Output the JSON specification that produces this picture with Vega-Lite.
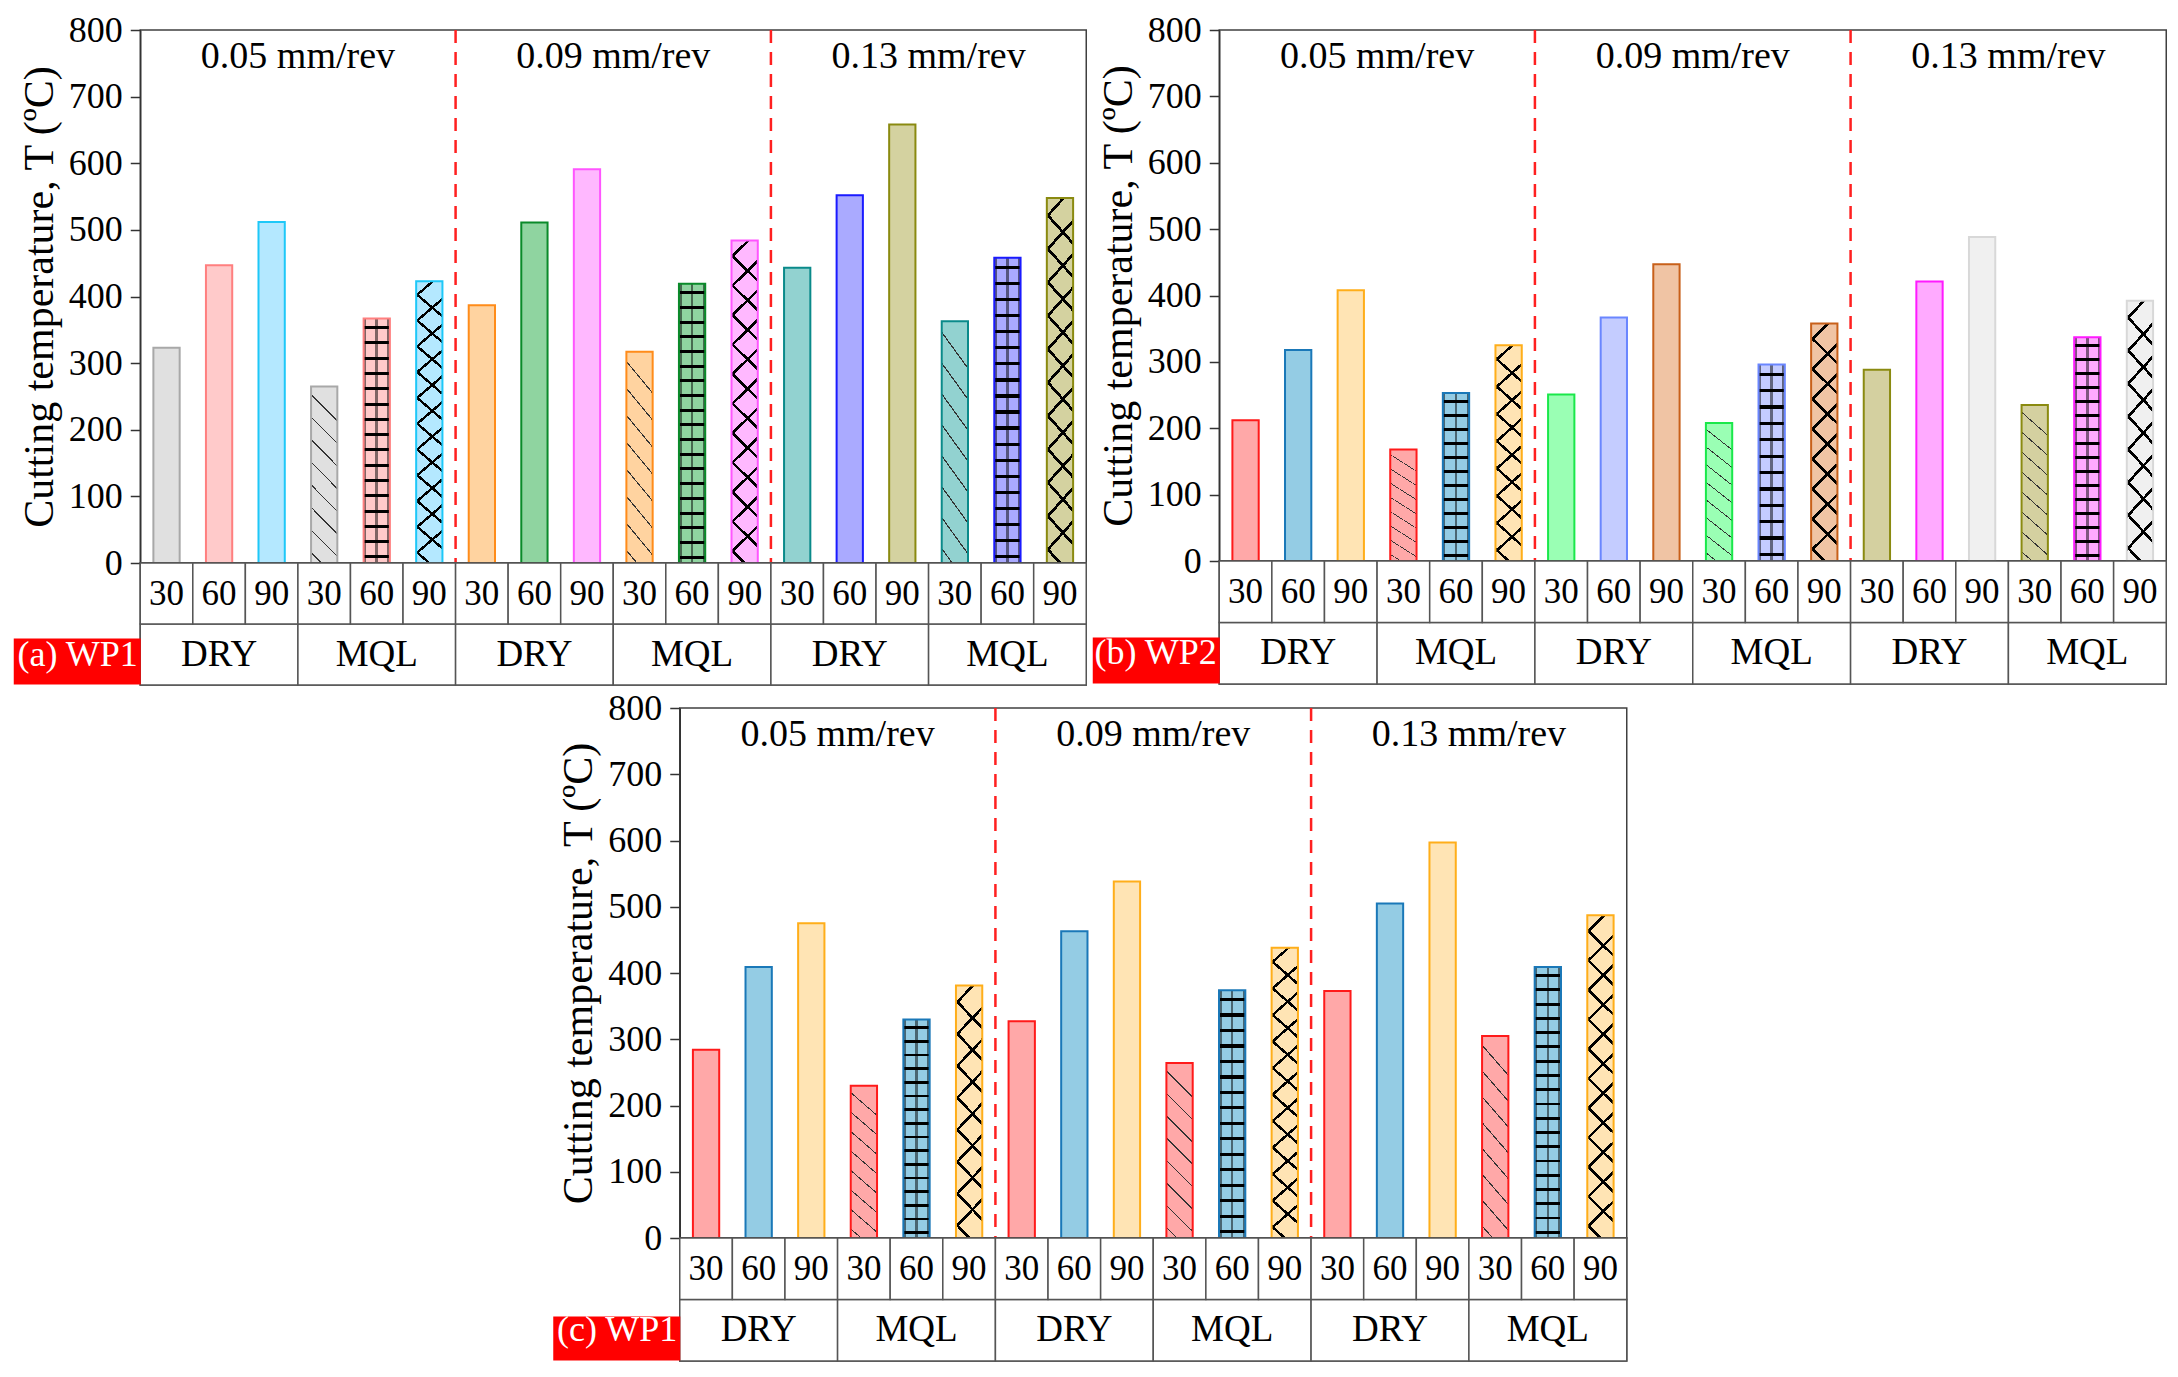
{
  "$schema": "https://vega.github.io/schema/vega-lite/v6.json",
  "padding": {"left": -11, "top": 11, "right": 8, "bottom": 4},
  "params": [
    {"name": "g12", "value": {"gradient": "linear", "x1": 0, "y1": 0, "x2": 0, "y2": 1, "stops": [
      {"offset":0.0417,"color":"transparent"},{"offset":0.0417,"color":"black"},{"offset":0.0583,"color":"black"},{"offset":0.0583,"color":"transparent"},
      {"offset":0.125,"color":"transparent"},{"offset":0.125,"color":"black"},{"offset":0.1417,"color":"black"},{"offset":0.1417,"color":"transparent"},
      {"offset":0.2083,"color":"transparent"},{"offset":0.2083,"color":"black"},{"offset":0.225,"color":"black"},{"offset":0.225,"color":"transparent"},
      {"offset":0.2917,"color":"transparent"},{"offset":0.2917,"color":"black"},{"offset":0.3083,"color":"black"},{"offset":0.3083,"color":"transparent"},
      {"offset":0.375,"color":"transparent"},{"offset":0.375,"color":"black"},{"offset":0.3917,"color":"black"},{"offset":0.3917,"color":"transparent"},
      {"offset":0.4583,"color":"transparent"},{"offset":0.4583,"color":"black"},{"offset":0.475,"color":"black"},{"offset":0.475,"color":"transparent"},
      {"offset":0.5417,"color":"transparent"},{"offset":0.5417,"color":"black"},{"offset":0.5583,"color":"black"},{"offset":0.5583,"color":"transparent"},
      {"offset":0.625,"color":"transparent"},{"offset":0.625,"color":"black"},{"offset":0.6417,"color":"black"},{"offset":0.6417,"color":"transparent"},
      {"offset":0.7083,"color":"transparent"},{"offset":0.7083,"color":"black"},{"offset":0.725,"color":"black"},{"offset":0.725,"color":"transparent"},
      {"offset":0.7917,"color":"transparent"},{"offset":0.7917,"color":"black"},{"offset":0.8083,"color":"black"},{"offset":0.8083,"color":"transparent"},
      {"offset":0.875,"color":"transparent"},{"offset":0.875,"color":"black"},{"offset":0.8917,"color":"black"},{"offset":0.8917,"color":"transparent"},
      {"offset":0.9583,"color":"transparent"},{"offset":0.9583,"color":"black"},{"offset":0.975,"color":"black"},{"offset":0.975,"color":"transparent"}
    ]}},
    {"name": "g16", "value": {"gradient": "linear", "x1": 0, "y1": 0, "x2": 0, "y2": 1, "stops": [
      {"offset":0.0313,"color":"transparent"},{"offset":0.0313,"color":"black"},{"offset":0.0438,"color":"black"},{"offset":0.0438,"color":"transparent"},
      {"offset":0.0938,"color":"transparent"},{"offset":0.0938,"color":"black"},{"offset":0.1063,"color":"black"},{"offset":0.1063,"color":"transparent"},
      {"offset":0.1563,"color":"transparent"},{"offset":0.1563,"color":"black"},{"offset":0.1688,"color":"black"},{"offset":0.1688,"color":"transparent"},
      {"offset":0.2188,"color":"transparent"},{"offset":0.2188,"color":"black"},{"offset":0.2313,"color":"black"},{"offset":0.2313,"color":"transparent"},
      {"offset":0.2813,"color":"transparent"},{"offset":0.2813,"color":"black"},{"offset":0.2938,"color":"black"},{"offset":0.2938,"color":"transparent"},
      {"offset":0.3438,"color":"transparent"},{"offset":0.3438,"color":"black"},{"offset":0.3563,"color":"black"},{"offset":0.3563,"color":"transparent"},
      {"offset":0.4063,"color":"transparent"},{"offset":0.4063,"color":"black"},{"offset":0.4188,"color":"black"},{"offset":0.4188,"color":"transparent"},
      {"offset":0.4688,"color":"transparent"},{"offset":0.4688,"color":"black"},{"offset":0.4813,"color":"black"},{"offset":0.4813,"color":"transparent"},
      {"offset":0.5313,"color":"transparent"},{"offset":0.5313,"color":"black"},{"offset":0.5438,"color":"black"},{"offset":0.5438,"color":"transparent"},
      {"offset":0.5938,"color":"transparent"},{"offset":0.5938,"color":"black"},{"offset":0.6063,"color":"black"},{"offset":0.6063,"color":"transparent"},
      {"offset":0.6563,"color":"transparent"},{"offset":0.6563,"color":"black"},{"offset":0.6688,"color":"black"},{"offset":0.6688,"color":"transparent"},
      {"offset":0.7188,"color":"transparent"},{"offset":0.7188,"color":"black"},{"offset":0.7313,"color":"black"},{"offset":0.7313,"color":"transparent"},
      {"offset":0.7813,"color":"transparent"},{"offset":0.7813,"color":"black"},{"offset":0.7938,"color":"black"},{"offset":0.7938,"color":"transparent"},
      {"offset":0.8438,"color":"transparent"},{"offset":0.8438,"color":"black"},{"offset":0.8563,"color":"black"},{"offset":0.8563,"color":"transparent"},
      {"offset":0.9063,"color":"transparent"},{"offset":0.9063,"color":"black"},{"offset":0.9188,"color":"black"},{"offset":0.9188,"color":"transparent"},
      {"offset":0.9688,"color":"transparent"},{"offset":0.9688,"color":"black"},{"offset":0.9813,"color":"black"},{"offset":0.9813,"color":"transparent"}
    ]}},
    {"name": "g19", "value": {"gradient": "linear", "x1": 0, "y1": 0, "x2": 0, "y2": 1, "stops": [
      {"offset":0.0263,"color":"transparent"},{"offset":0.0263,"color":"black"},{"offset":0.0368,"color":"black"},{"offset":0.0368,"color":"transparent"},
      {"offset":0.0789,"color":"transparent"},{"offset":0.0789,"color":"black"},{"offset":0.0894,"color":"black"},{"offset":0.0894,"color":"transparent"},
      {"offset":0.1316,"color":"transparent"},{"offset":0.1316,"color":"black"},{"offset":0.1421,"color":"black"},{"offset":0.1421,"color":"transparent"},
      {"offset":0.1842,"color":"transparent"},{"offset":0.1842,"color":"black"},{"offset":0.1947,"color":"black"},{"offset":0.1947,"color":"transparent"},
      {"offset":0.2368,"color":"transparent"},{"offset":0.2368,"color":"black"},{"offset":0.2473,"color":"black"},{"offset":0.2473,"color":"transparent"},
      {"offset":0.2895,"color":"transparent"},{"offset":0.2895,"color":"black"},{"offset":0.3,"color":"black"},{"offset":0.3,"color":"transparent"},
      {"offset":0.3421,"color":"transparent"},{"offset":0.3421,"color":"black"},{"offset":0.3526,"color":"black"},{"offset":0.3526,"color":"transparent"},
      {"offset":0.3947,"color":"transparent"},{"offset":0.3947,"color":"black"},{"offset":0.4052,"color":"black"},{"offset":0.4052,"color":"transparent"},
      {"offset":0.4474,"color":"transparent"},{"offset":0.4474,"color":"black"},{"offset":0.4579,"color":"black"},{"offset":0.4579,"color":"transparent"},
      {"offset":0.5,"color":"transparent"},{"offset":0.5,"color":"black"},{"offset":0.5105,"color":"black"},{"offset":0.5105,"color":"transparent"},
      {"offset":0.5526,"color":"transparent"},{"offset":0.5526,"color":"black"},{"offset":0.5631,"color":"black"},{"offset":0.5631,"color":"transparent"},
      {"offset":0.6053,"color":"transparent"},{"offset":0.6053,"color":"black"},{"offset":0.6158,"color":"black"},{"offset":0.6158,"color":"transparent"},
      {"offset":0.6579,"color":"transparent"},{"offset":0.6579,"color":"black"},{"offset":0.6684,"color":"black"},{"offset":0.6684,"color":"transparent"},
      {"offset":0.7105,"color":"transparent"},{"offset":0.7105,"color":"black"},{"offset":0.721,"color":"black"},{"offset":0.721,"color":"transparent"},
      {"offset":0.7632,"color":"transparent"},{"offset":0.7632,"color":"black"},{"offset":0.7737,"color":"black"},{"offset":0.7737,"color":"transparent"},
      {"offset":0.8158,"color":"transparent"},{"offset":0.8158,"color":"black"},{"offset":0.8263,"color":"black"},{"offset":0.8263,"color":"transparent"},
      {"offset":0.8684,"color":"transparent"},{"offset":0.8684,"color":"black"},{"offset":0.8789,"color":"black"},{"offset":0.8789,"color":"transparent"},
      {"offset":0.9211,"color":"transparent"},{"offset":0.9211,"color":"black"},{"offset":0.9316,"color":"black"},{"offset":0.9316,"color":"transparent"},
      {"offset":0.9737,"color":"transparent"},{"offset":0.9737,"color":"black"},{"offset":0.9842,"color":"black"},{"offset":0.9842,"color":"transparent"}
    ]}},
    {"name": "gv", "value": {"gradient": "linear", "x1": 0, "y1": 0, "x2": 1, "y2": 0, "stops": [
      {"offset":0,"color":"rgba(0,0,0,0.5)"},{"offset":0.1,"color":"rgba(0,0,0,0.5)"},{"offset":0.1,"color":"transparent"},
      {"offset":0.45,"color":"transparent"},{"offset":0.45,"color":"rgba(0,0,0,0.5)"},{"offset":0.55,"color":"rgba(0,0,0,0.5)"},{"offset":0.55,"color":"transparent"},
      {"offset":0.9,"color":"transparent"},{"offset":0.9,"color":"rgba(0,0,0,0.5)"},{"offset":1,"color":"rgba(0,0,0,0.5)"}
    ]}},
    {"name": "d30", "value": {"gradient": "linear", "x1": 0.15, "y1": 0, "x2": 0, "y2": 1, "stops": [
      {"offset":0.0625,"color":"transparent"},{"offset":0.0625,"color":"#333"},{"offset":0.0705,"color":"#333"},{"offset":0.0705,"color":"transparent"},
      {"offset":0.1875,"color":"transparent"},{"offset":0.1875,"color":"#333"},{"offset":0.1955,"color":"#333"},{"offset":0.1955,"color":"transparent"},
      {"offset":0.3125,"color":"transparent"},{"offset":0.3125,"color":"#333"},{"offset":0.3205,"color":"#333"},{"offset":0.3205,"color":"transparent"},
      {"offset":0.4375,"color":"transparent"},{"offset":0.4375,"color":"#333"},{"offset":0.4455,"color":"#333"},{"offset":0.4455,"color":"transparent"},
      {"offset":0.5625,"color":"transparent"},{"offset":0.5625,"color":"#333"},{"offset":0.5705,"color":"#333"},{"offset":0.5705,"color":"transparent"},
      {"offset":0.6875,"color":"transparent"},{"offset":0.6875,"color":"#333"},{"offset":0.6955,"color":"#333"},{"offset":0.6955,"color":"transparent"},
      {"offset":0.8125,"color":"transparent"},{"offset":0.8125,"color":"#333"},{"offset":0.8205,"color":"#333"},{"offset":0.8205,"color":"transparent"},
      {"offset":0.9375,"color":"transparent"},{"offset":0.9375,"color":"#333"},{"offset":0.9455,"color":"#333"},{"offset":0.9455,"color":"transparent"}
    ]}},
    {"name": "xa8", "value": {"gradient": "linear", "x1": 0.11, "y1": 0, "x2": 0, "y2": 1, "stops": [
      {"offset":0.0625,"color":"transparent"},{"offset":0.0625,"color":"black"},{"offset":0.0775,"color":"black"},{"offset":0.0775,"color":"transparent"},
      {"offset":0.1875,"color":"transparent"},{"offset":0.1875,"color":"black"},{"offset":0.2025,"color":"black"},{"offset":0.2025,"color":"transparent"},
      {"offset":0.3125,"color":"transparent"},{"offset":0.3125,"color":"black"},{"offset":0.3275,"color":"black"},{"offset":0.3275,"color":"transparent"},
      {"offset":0.4375,"color":"transparent"},{"offset":0.4375,"color":"black"},{"offset":0.4525,"color":"black"},{"offset":0.4525,"color":"transparent"},
      {"offset":0.5625,"color":"transparent"},{"offset":0.5625,"color":"black"},{"offset":0.5775,"color":"black"},{"offset":0.5775,"color":"transparent"},
      {"offset":0.6875,"color":"transparent"},{"offset":0.6875,"color":"black"},{"offset":0.7025,"color":"black"},{"offset":0.7025,"color":"transparent"},
      {"offset":0.8125,"color":"transparent"},{"offset":0.8125,"color":"black"},{"offset":0.8275,"color":"black"},{"offset":0.8275,"color":"transparent"},
      {"offset":0.9375,"color":"transparent"},{"offset":0.9375,"color":"black"},{"offset":0.9525,"color":"black"},{"offset":0.9525,"color":"transparent"}
    ]}},
    {"name": "xb8", "value": {"gradient": "linear", "x1": 0, "y1": 0, "x2": 0.11, "y2": 1, "stops": [
      {"offset":0.0625,"color":"transparent"},{"offset":0.0625,"color":"black"},{"offset":0.0775,"color":"black"},{"offset":0.0775,"color":"transparent"},
      {"offset":0.1875,"color":"transparent"},{"offset":0.1875,"color":"black"},{"offset":0.2025,"color":"black"},{"offset":0.2025,"color":"transparent"},
      {"offset":0.3125,"color":"transparent"},{"offset":0.3125,"color":"black"},{"offset":0.3275,"color":"black"},{"offset":0.3275,"color":"transparent"},
      {"offset":0.4375,"color":"transparent"},{"offset":0.4375,"color":"black"},{"offset":0.4525,"color":"black"},{"offset":0.4525,"color":"transparent"},
      {"offset":0.5625,"color":"transparent"},{"offset":0.5625,"color":"black"},{"offset":0.5775,"color":"black"},{"offset":0.5775,"color":"transparent"},
      {"offset":0.6875,"color":"transparent"},{"offset":0.6875,"color":"black"},{"offset":0.7025,"color":"black"},{"offset":0.7025,"color":"transparent"},
      {"offset":0.8125,"color":"transparent"},{"offset":0.8125,"color":"black"},{"offset":0.8275,"color":"black"},{"offset":0.8275,"color":"transparent"},
      {"offset":0.9375,"color":"transparent"},{"offset":0.9375,"color":"black"},{"offset":0.9525,"color":"black"},{"offset":0.9525,"color":"transparent"}
    ]}},
    {"name": "xa11", "value": {"gradient": "linear", "x1": 0.08, "y1": 0, "x2": 0, "y2": 1, "stops": [
      {"offset":0.0455,"color":"transparent"},{"offset":0.0455,"color":"black"},{"offset":0.0565,"color":"black"},{"offset":0.0565,"color":"transparent"},
      {"offset":0.1364,"color":"transparent"},{"offset":0.1364,"color":"black"},{"offset":0.1474,"color":"black"},{"offset":0.1474,"color":"transparent"},
      {"offset":0.2273,"color":"transparent"},{"offset":0.2273,"color":"black"},{"offset":0.2383,"color":"black"},{"offset":0.2383,"color":"transparent"},
      {"offset":0.3182,"color":"transparent"},{"offset":0.3182,"color":"black"},{"offset":0.3292,"color":"black"},{"offset":0.3292,"color":"transparent"},
      {"offset":0.4091,"color":"transparent"},{"offset":0.4091,"color":"black"},{"offset":0.4201,"color":"black"},{"offset":0.4201,"color":"transparent"},
      {"offset":0.5,"color":"transparent"},{"offset":0.5,"color":"black"},{"offset":0.511,"color":"black"},{"offset":0.511,"color":"transparent"},
      {"offset":0.5909,"color":"transparent"},{"offset":0.5909,"color":"black"},{"offset":0.6019,"color":"black"},{"offset":0.6019,"color":"transparent"},
      {"offset":0.6818,"color":"transparent"},{"offset":0.6818,"color":"black"},{"offset":0.6928,"color":"black"},{"offset":0.6928,"color":"transparent"},
      {"offset":0.7727,"color":"transparent"},{"offset":0.7727,"color":"black"},{"offset":0.7837,"color":"black"},{"offset":0.7837,"color":"transparent"},
      {"offset":0.8636,"color":"transparent"},{"offset":0.8636,"color":"black"},{"offset":0.8746,"color":"black"},{"offset":0.8746,"color":"transparent"},
      {"offset":0.9545,"color":"transparent"},{"offset":0.9545,"color":"black"},{"offset":0.9655,"color":"black"},{"offset":0.9655,"color":"transparent"}
    ]}},
    {"name": "xb11", "value": {"gradient": "linear", "x1": 0, "y1": 0, "x2": 0.08, "y2": 1, "stops": [
      {"offset":0.0455,"color":"transparent"},{"offset":0.0455,"color":"black"},{"offset":0.0565,"color":"black"},{"offset":0.0565,"color":"transparent"},
      {"offset":0.1364,"color":"transparent"},{"offset":0.1364,"color":"black"},{"offset":0.1474,"color":"black"},{"offset":0.1474,"color":"transparent"},
      {"offset":0.2273,"color":"transparent"},{"offset":0.2273,"color":"black"},{"offset":0.2383,"color":"black"},{"offset":0.2383,"color":"transparent"},
      {"offset":0.3182,"color":"transparent"},{"offset":0.3182,"color":"black"},{"offset":0.3292,"color":"black"},{"offset":0.3292,"color":"transparent"},
      {"offset":0.4091,"color":"transparent"},{"offset":0.4091,"color":"black"},{"offset":0.4201,"color":"black"},{"offset":0.4201,"color":"transparent"},
      {"offset":0.5,"color":"transparent"},{"offset":0.5,"color":"black"},{"offset":0.511,"color":"black"},{"offset":0.511,"color":"transparent"},
      {"offset":0.5909,"color":"transparent"},{"offset":0.5909,"color":"black"},{"offset":0.6019,"color":"black"},{"offset":0.6019,"color":"transparent"},
      {"offset":0.6818,"color":"transparent"},{"offset":0.6818,"color":"black"},{"offset":0.6928,"color":"black"},{"offset":0.6928,"color":"transparent"},
      {"offset":0.7727,"color":"transparent"},{"offset":0.7727,"color":"black"},{"offset":0.7837,"color":"black"},{"offset":0.7837,"color":"transparent"},
      {"offset":0.8636,"color":"transparent"},{"offset":0.8636,"color":"black"},{"offset":0.8746,"color":"black"},{"offset":0.8746,"color":"transparent"},
      {"offset":0.9545,"color":"transparent"},{"offset":0.9545,"color":"black"},{"offset":0.9655,"color":"black"},{"offset":0.9655,"color":"transparent"}
    ]}}
  ],
  "datasets": {
    "temps": [
      {"panel":"a","feed":"0.05 mm/rev","cond":"DRY","speed":30,"T":323},
      {"panel":"a","feed":"0.05 mm/rev","cond":"DRY","speed":60,"T":447},
      {"panel":"a","feed":"0.05 mm/rev","cond":"DRY","speed":90,"T":512},
      {"panel":"a","feed":"0.05 mm/rev","cond":"MQL","speed":30,"T":265},
      {"panel":"a","feed":"0.05 mm/rev","cond":"MQL","speed":60,"T":367},
      {"panel":"a","feed":"0.05 mm/rev","cond":"MQL","speed":90,"T":423},
      {"panel":"a","feed":"0.09 mm/rev","cond":"DRY","speed":30,"T":387},
      {"panel":"a","feed":"0.09 mm/rev","cond":"DRY","speed":60,"T":511},
      {"panel":"a","feed":"0.09 mm/rev","cond":"DRY","speed":90,"T":591},
      {"panel":"a","feed":"0.09 mm/rev","cond":"MQL","speed":30,"T":317},
      {"panel":"a","feed":"0.09 mm/rev","cond":"MQL","speed":60,"T":419},
      {"panel":"a","feed":"0.09 mm/rev","cond":"MQL","speed":90,"T":484},
      {"panel":"a","feed":"0.13 mm/rev","cond":"DRY","speed":30,"T":443},
      {"panel":"a","feed":"0.13 mm/rev","cond":"DRY","speed":60,"T":552},
      {"panel":"a","feed":"0.13 mm/rev","cond":"DRY","speed":90,"T":658},
      {"panel":"a","feed":"0.13 mm/rev","cond":"MQL","speed":30,"T":363},
      {"panel":"a","feed":"0.13 mm/rev","cond":"MQL","speed":60,"T":458},
      {"panel":"a","feed":"0.13 mm/rev","cond":"MQL","speed":90,"T":548},
      {"panel":"b","feed":"0.05 mm/rev","cond":"DRY","speed":30,"T":212},
      {"panel":"b","feed":"0.05 mm/rev","cond":"DRY","speed":60,"T":318},
      {"panel":"b","feed":"0.05 mm/rev","cond":"DRY","speed":90,"T":408},
      {"panel":"b","feed":"0.05 mm/rev","cond":"MQL","speed":30,"T":168},
      {"panel":"b","feed":"0.05 mm/rev","cond":"MQL","speed":60,"T":253},
      {"panel":"b","feed":"0.05 mm/rev","cond":"MQL","speed":90,"T":325},
      {"panel":"b","feed":"0.09 mm/rev","cond":"DRY","speed":30,"T":251},
      {"panel":"b","feed":"0.09 mm/rev","cond":"DRY","speed":60,"T":367},
      {"panel":"b","feed":"0.09 mm/rev","cond":"DRY","speed":90,"T":447},
      {"panel":"b","feed":"0.09 mm/rev","cond":"MQL","speed":30,"T":208},
      {"panel":"b","feed":"0.09 mm/rev","cond":"MQL","speed":60,"T":296},
      {"panel":"b","feed":"0.09 mm/rev","cond":"MQL","speed":90,"T":358},
      {"panel":"b","feed":"0.13 mm/rev","cond":"DRY","speed":30,"T":288},
      {"panel":"b","feed":"0.13 mm/rev","cond":"DRY","speed":60,"T":421},
      {"panel":"b","feed":"0.13 mm/rev","cond":"DRY","speed":90,"T":488},
      {"panel":"b","feed":"0.13 mm/rev","cond":"MQL","speed":30,"T":235},
      {"panel":"b","feed":"0.13 mm/rev","cond":"MQL","speed":60,"T":337},
      {"panel":"b","feed":"0.13 mm/rev","cond":"MQL","speed":90,"T":392},
      {"panel":"c","feed":"0.05 mm/rev","cond":"DRY","speed":30,"T":284},
      {"panel":"c","feed":"0.05 mm/rev","cond":"DRY","speed":60,"T":409},
      {"panel":"c","feed":"0.05 mm/rev","cond":"DRY","speed":90,"T":475},
      {"panel":"c","feed":"0.05 mm/rev","cond":"MQL","speed":30,"T":230},
      {"panel":"c","feed":"0.05 mm/rev","cond":"MQL","speed":60,"T":330},
      {"panel":"c","feed":"0.05 mm/rev","cond":"MQL","speed":90,"T":381},
      {"panel":"c","feed":"0.09 mm/rev","cond":"DRY","speed":30,"T":327},
      {"panel":"c","feed":"0.09 mm/rev","cond":"DRY","speed":60,"T":463},
      {"panel":"c","feed":"0.09 mm/rev","cond":"DRY","speed":90,"T":538},
      {"panel":"c","feed":"0.09 mm/rev","cond":"MQL","speed":30,"T":264},
      {"panel":"c","feed":"0.09 mm/rev","cond":"MQL","speed":60,"T":374},
      {"panel":"c","feed":"0.09 mm/rev","cond":"MQL","speed":90,"T":438},
      {"panel":"c","feed":"0.13 mm/rev","cond":"DRY","speed":30,"T":373},
      {"panel":"c","feed":"0.13 mm/rev","cond":"DRY","speed":60,"T":505},
      {"panel":"c","feed":"0.13 mm/rev","cond":"DRY","speed":90,"T":597},
      {"panel":"c","feed":"0.13 mm/rev","cond":"MQL","speed":30,"T":305},
      {"panel":"c","feed":"0.13 mm/rev","cond":"MQL","speed":60,"T":409},
      {"panel":"c","feed":"0.13 mm/rev","cond":"MQL","speed":90,"T":487}
    ]
  },
  "center": true,
  "spacing": 2,
  "resolve": {"scale": {"fill": "independent", "stroke": "independent"}},
  "vconcat": [
    {
      "spacing": -20,
      "resolve": {"scale": {"fill": "independent", "stroke": "independent"}},
      "hconcat": [
        {
          "bounds": "flush",
          "spacing": 0,
          "resolve": {"scale": {"fill": "independent", "stroke": "independent"}},
          "vconcat": [
            {
              "width": 946, "height": 533,
              "data": {"name": "temps"},
              "transform": [
                {"filter": "datum.panel == 'a'"},
                {"calculate": "datum.feed + ' ' + datum.cond + ' ' + datum.speed", "as": "slot"},
                {"calculate": "datum.feed + ' ' + datum.speed", "as": "key"}
              ],
              "resolve": {"scale": {"x": "independent"}},
              "layer": [
                {
                  "encoding": {
                    "x": {"field": "slot", "type": "nominal", "sort": null, "axis": null, "scale": {"paddingInner": 0.5, "paddingOuter": 0.25}},
                    "y": {"field": "T", "type": "quantitative", "scale": {"domain": [0, 800]},
                      "axis": {"values": [0,50,100,150,200,250,300,350,400,450,500,550,600,650,700,750,800], "labelExpr": "datum.value % 100 == 0 ? datum.label : ''", "tickSize": 10, "tickDash": {"condition": {"test": "datum.value % 100 != 0", "value": [5, 20]}, "value": [20, 0]}, "tickColor": "#333", "tickWidth": 1.5, "domainColor": "#333", "domainWidth": 1.5, "labelFontSize": 36, "labelColor": "black", "labelPadding": 8, "title": "Cutting temperature, T (ºC)", "titleFontSize": 42, "titleFontWeight": "normal", "titleColor": "black", "titlePadding": 7, "grid": false}}
                  },
                  "layer": [
                    {"mark": {"type": "bar"}, "encoding": {"fill": {"field": "key", "type": "nominal", "legend": null, "scale": {"domain": ["0.05 mm/rev 30","0.05 mm/rev 60","0.05 mm/rev 90","0.09 mm/rev 30","0.09 mm/rev 60","0.09 mm/rev 90","0.13 mm/rev 30","0.13 mm/rev 60","0.13 mm/rev 90"], "range": ["#e0e0e0","#ffcaca","#b4e8ff","#ffd3a0","#8fd4a0","#ffb8ff","#92d2d0","#aaaaff","#d4d2a0"]}}}},
                    {"mark": {"type": "bar", "fill": {"expr": "datum.cond == 'MQL' && datum.speed == 60 ? (datum.T < 320 ? g12 : datum.T < 400 ? g16 : g19) : 'transparent'"}}},
                    {"mark": {"type": "bar", "fill": {"expr": "datum.cond == 'MQL' && datum.speed == 60 ? gv : 'transparent'"}}},
                    {"mark": {"type": "bar", "fill": {"expr": "datum.cond != 'MQL' ? 'transparent' : datum.speed == 30 ? d30 : datum.speed == 90 ? (datum.T < 400 ? xa8 : xa11) : 'transparent'"}}},
                    {"mark": {"type": "bar", "fill": {"expr": "datum.cond == 'MQL' && datum.speed == 90 ? (datum.T < 400 ? xb8 : xb11) : 'transparent'"}}},
                    {"mark": {"type": "bar", "fill": "transparent", "strokeWidth": 2}, "encoding": {"stroke": {"field": "key", "type": "nominal", "legend": null, "scale": {"domain": ["0.05 mm/rev 30","0.05 mm/rev 60","0.05 mm/rev 90","0.09 mm/rev 30","0.09 mm/rev 60","0.09 mm/rev 90","0.13 mm/rev 30","0.13 mm/rev 60","0.13 mm/rev 90"], "range": ["#a8a8a8","#ff7f7f","#1ec8f8","#ff8c1a","#0a8a2a","#ff55ff","#0a8a8a","#1a1aff","#8a8a10"]}}}}
                  ]
                },
                {
                  "transform": [{"filter": "datum.cond == 'DRY' && datum.speed == 30"}],
                  "mark": {"type": "text", "fontSize": 38, "baseline": "middle", "color": "black"},
                  "encoding": {
                    "x": {"field": "feed", "type": "nominal", "sort": null, "axis": null, "scale": {"domain": ["0.05 mm/rev","0.09 mm/rev","0.13 mm/rev"], "paddingInner": 0, "paddingOuter": 0}},
                    "y": {"datum": 760, "type": "quantitative"},
                    "text": {"field": "feed"}
                  }
                },
                {
                  "transform": [{"filter": "datum.cond == 'DRY' && datum.speed == 30 && datum.feed != '0.05 mm/rev'"}],
                  "mark": {"type": "rule", "color": "#ff2020", "strokeWidth": 2.5, "strokeDash": [13, 9]},
                  "encoding": {
                    "x": {"field": "feed", "type": "nominal", "sort": null, "axis": null, "bandPosition": 0, "scale": {"domain": ["0.05 mm/rev","0.09 mm/rev","0.13 mm/rev"], "paddingInner": 0, "paddingOuter": 0}}
                  }
                }
              ]
            },
            {
              "width": 946, "height": 122,
              "data": {"name": "temps"},
              "transform": [{"filter": "datum.panel == 'a'"}],
              "encoding": {
                "y": {"field": "row", "type": "nominal", "scale": {"domain": ["speed", "cond"], "paddingInner": 0, "paddingOuter": 0},
                  "axis": {"values": ["cond"], "labelExpr": "'(a) WP1'", "domain": false, "ticks": true, "tickSize": 127, "tickWidth": 46, "tickColor": "#ff0000", "tickCap": "butt", "labelColor": "white", "labelFontSize": 36, "labelPadding": -124, "labelBaseline": "middle", "title": null, "bandPosition": 0.62, "grid": false}}
              },
              "resolve": {"scale": {"x": "independent"}},
              "layer": [
                {
                  "transform": [{"filter": "datum.speed == 30"}, {"calculate": "datum.feed + ' ' + datum.cond", "as": "grp"}, {"calculate": "'cond'", "as": "row"}],
                  "encoding": {"x": {"field": "grp", "type": "nominal", "sort": null, "axis": null, "scale": {"paddingInner": 0, "paddingOuter": 0}}},
                  "layer": [
                    {"mark": {"type": "rect", "fill": "white", "stroke": "#555", "strokeWidth": 1.5}},
                    {"mark": {"type": "text", "fontSize": 37, "color": "black"}, "encoding": {"text": {"field": "cond"}}}
                  ]
                },
                {
                  "transform": [{"calculate": "datum.feed + ' ' + datum.cond + ' ' + datum.speed", "as": "slot"}, {"calculate": "'speed'", "as": "row"}],
                  "encoding": {"x": {"field": "slot", "type": "nominal", "sort": null, "axis": null, "scale": {"paddingInner": 0, "paddingOuter": 0}}},
                  "layer": [
                    {"mark": {"type": "rect", "fill": "white", "stroke": "#555", "strokeWidth": 1.5}},
                    {"mark": {"type": "text", "fontSize": 35, "color": "black"}, "encoding": {"text": {"field": "speed"}}}
                  ]
                }
              ]
            }
          ]
        },
        {
          "bounds": "flush",
          "spacing": 0,
          "resolve": {"scale": {"fill": "independent", "stroke": "independent"}},
          "vconcat": [
            {
              "width": 947, "height": 531,
              "data": {"name": "temps"},
              "transform": [
                {"filter": "datum.panel == 'b'"},
                {"calculate": "datum.feed + ' ' + datum.cond + ' ' + datum.speed", "as": "slot"},
                {"calculate": "datum.feed + ' ' + datum.speed", "as": "key"}
              ],
              "resolve": {"scale": {"x": "independent"}},
              "layer": [
                {
                  "encoding": {
                    "x": {"field": "slot", "type": "nominal", "sort": null, "axis": null, "scale": {"paddingInner": 0.5, "paddingOuter": 0.25}},
                    "y": {"field": "T", "type": "quantitative", "scale": {"domain": [0, 800]},
                      "axis": {"values": [0,50,100,150,200,250,300,350,400,450,500,550,600,650,700,750,800], "labelExpr": "datum.value % 100 == 0 ? datum.label : ''", "tickSize": 10, "tickDash": {"condition": {"test": "datum.value % 100 != 0", "value": [5, 20]}, "value": [20, 0]}, "tickColor": "#333", "tickWidth": 1.5, "domainColor": "#333", "domainWidth": 1.5, "labelFontSize": 36, "labelColor": "black", "labelPadding": 8, "title": "Cutting temperature, T (ºC)", "titleFontSize": 42, "titleFontWeight": "normal", "titleColor": "black", "titlePadding": 7, "grid": false}}
                  },
                  "layer": [
                    {"mark": {"type": "bar"}, "encoding": {"fill": {"field": "key", "type": "nominal", "legend": null, "scale": {"domain": ["0.05 mm/rev 30","0.05 mm/rev 60","0.05 mm/rev 90","0.09 mm/rev 30","0.09 mm/rev 60","0.09 mm/rev 90","0.13 mm/rev 30","0.13 mm/rev 60","0.13 mm/rev 90"], "range": ["#ffa8a8","#94cce4","#ffe4b4","#9affb4","#c4ccff","#f0c4a4","#d4d0a0","#ffaaff","#f0f0f0"]}}}},
                    {"mark": {"type": "bar", "fill": {"expr": "datum.cond == 'MQL' && datum.speed == 60 ? (datum.T < 320 ? g12 : datum.T < 400 ? g16 : g19) : 'transparent'"}}},
                    {"mark": {"type": "bar", "fill": {"expr": "datum.cond == 'MQL' && datum.speed == 60 ? gv : 'transparent'"}}},
                    {"mark": {"type": "bar", "fill": {"expr": "datum.cond != 'MQL' ? 'transparent' : datum.speed == 30 ? d30 : datum.speed == 90 ? (datum.T < 400 ? xa8 : xa11) : 'transparent'"}}},
                    {"mark": {"type": "bar", "fill": {"expr": "datum.cond == 'MQL' && datum.speed == 90 ? (datum.T < 400 ? xb8 : xb11) : 'transparent'"}}},
                    {"mark": {"type": "bar", "fill": "transparent", "strokeWidth": 2}, "encoding": {"stroke": {"field": "key", "type": "nominal", "legend": null, "scale": {"domain": ["0.05 mm/rev 30","0.05 mm/rev 60","0.05 mm/rev 90","0.09 mm/rev 30","0.09 mm/rev 60","0.09 mm/rev 90","0.13 mm/rev 30","0.13 mm/rev 60","0.13 mm/rev 90"], "range": ["#ff1a1a","#1a78b8","#ffae1a","#1ae84a","#6a86ff","#c8601a","#8a8a10","#ff1aff","#d8d8d8"]}}}}
                  ]
                },
                {
                  "transform": [{"filter": "datum.cond == 'DRY' && datum.speed == 30"}],
                  "mark": {"type": "text", "fontSize": 38, "baseline": "middle", "color": "black"},
                  "encoding": {
                    "x": {"field": "feed", "type": "nominal", "sort": null, "axis": null, "scale": {"domain": ["0.05 mm/rev","0.09 mm/rev","0.13 mm/rev"], "paddingInner": 0, "paddingOuter": 0}},
                    "y": {"datum": 760, "type": "quantitative"},
                    "text": {"field": "feed"}
                  }
                },
                {
                  "transform": [{"filter": "datum.cond == 'DRY' && datum.speed == 30 && datum.feed != '0.05 mm/rev'"}],
                  "mark": {"type": "rule", "color": "#ff2020", "strokeWidth": 2.5, "strokeDash": [13, 9]},
                  "encoding": {
                    "x": {"field": "feed", "type": "nominal", "sort": null, "axis": null, "bandPosition": 0, "scale": {"domain": ["0.05 mm/rev","0.09 mm/rev","0.13 mm/rev"], "paddingInner": 0, "paddingOuter": 0}}
                  }
                }
              ]
            },
            {
              "width": 947, "height": 123,
              "data": {"name": "temps"},
              "transform": [{"filter": "datum.panel == 'b'"}],
              "encoding": {
                "y": {"field": "row", "type": "nominal", "scale": {"domain": ["speed", "cond"], "paddingInner": 0, "paddingOuter": 0},
                  "axis": {"values": ["cond"], "labelExpr": "'(b) WP2'", "domain": false, "ticks": true, "tickSize": 127, "tickWidth": 46, "tickColor": "#ff0000", "tickCap": "butt", "labelColor": "white", "labelFontSize": 36, "labelPadding": -124, "labelBaseline": "middle", "title": null, "bandPosition": 0.62, "grid": false}}
              },
              "resolve": {"scale": {"x": "independent"}},
              "layer": [
                {
                  "transform": [{"filter": "datum.speed == 30"}, {"calculate": "datum.feed + ' ' + datum.cond", "as": "grp"}, {"calculate": "'cond'", "as": "row"}],
                  "encoding": {"x": {"field": "grp", "type": "nominal", "sort": null, "axis": null, "scale": {"paddingInner": 0, "paddingOuter": 0}}},
                  "layer": [
                    {"mark": {"type": "rect", "fill": "white", "stroke": "#555", "strokeWidth": 1.5}},
                    {"mark": {"type": "text", "fontSize": 37, "color": "black"}, "encoding": {"text": {"field": "cond"}}}
                  ]
                },
                {
                  "transform": [{"calculate": "datum.feed + ' ' + datum.cond + ' ' + datum.speed", "as": "slot"}, {"calculate": "'speed'", "as": "row"}],
                  "encoding": {"x": {"field": "slot", "type": "nominal", "sort": null, "axis": null, "scale": {"paddingInner": 0, "paddingOuter": 0}}},
                  "layer": [
                    {"mark": {"type": "rect", "fill": "white", "stroke": "#555", "strokeWidth": 1.5}},
                    {"mark": {"type": "text", "fontSize": 35, "color": "black"}, "encoding": {"text": {"field": "speed"}}}
                  ]
                }
              ]
            }
          ]
        }
      ]
    },
    {
      "bounds": "flush",
      "spacing": 0,
      "resolve": {"scale": {"fill": "independent", "stroke": "independent"}},
      "vconcat": [
        {
          "width": 947, "height": 530,
          "data": {"name": "temps"},
          "transform": [
            {"filter": "datum.panel == 'c'"},
            {"calculate": "datum.feed + ' ' + datum.cond + ' ' + datum.speed", "as": "slot"},
            {"calculate": "datum.feed + ' ' + datum.speed", "as": "key"}
          ],
          "resolve": {"scale": {"x": "independent"}},
          "layer": [
            {
              "encoding": {
                "x": {"field": "slot", "type": "nominal", "sort": null, "axis": null, "scale": {"paddingInner": 0.5, "paddingOuter": 0.25}},
                "y": {"field": "T", "type": "quantitative", "scale": {"domain": [0, 800]},
                  "axis": {"values": [0,50,100,150,200,250,300,350,400,450,500,550,600,650,700,750,800], "labelExpr": "datum.value % 100 == 0 ? datum.label : ''", "tickSize": 10, "tickDash": {"condition": {"test": "datum.value % 100 != 0", "value": [5, 20]}, "value": [20, 0]}, "tickColor": "#333", "tickWidth": 1.5, "domainColor": "#333", "domainWidth": 1.5, "labelFontSize": 36, "labelColor": "black", "labelPadding": 8, "title": "Cutting temperature, T (ºC)", "titleFontSize": 42, "titleFontWeight": "normal", "titleColor": "black", "titlePadding": 7, "grid": false}}
              },
              "layer": [
                {"mark": {"type": "bar"}, "encoding": {"fill": {"field": "key", "type": "nominal", "legend": null, "scale": {"domain": ["0.05 mm/rev 30","0.05 mm/rev 60","0.05 mm/rev 90","0.09 mm/rev 30","0.09 mm/rev 60","0.09 mm/rev 90","0.13 mm/rev 30","0.13 mm/rev 60","0.13 mm/rev 90"], "range": ["#ffa8a8","#94cce4","#ffe4b4","#ffa8a8","#94cce4","#ffe4b4","#ffa8a8","#94cce4","#ffe4b4"]}}}},
                {"mark": {"type": "bar", "fill": {"expr": "datum.cond == 'MQL' && datum.speed == 60 ? (datum.T < 320 ? g12 : datum.T < 400 ? g16 : g19) : 'transparent'"}}},
                {"mark": {"type": "bar", "fill": {"expr": "datum.cond == 'MQL' && datum.speed == 60 ? gv : 'transparent'"}}},
                {"mark": {"type": "bar", "fill": {"expr": "datum.cond != 'MQL' ? 'transparent' : datum.speed == 30 ? d30 : datum.speed == 90 ? (datum.T < 400 ? xa8 : xa11) : 'transparent'"}}},
                {"mark": {"type": "bar", "fill": {"expr": "datum.cond == 'MQL' && datum.speed == 90 ? (datum.T < 400 ? xb8 : xb11) : 'transparent'"}}},
                {"mark": {"type": "bar", "fill": "transparent", "strokeWidth": 2}, "encoding": {"stroke": {"field": "key", "type": "nominal", "legend": null, "scale": {"domain": ["0.05 mm/rev 30","0.05 mm/rev 60","0.05 mm/rev 90","0.09 mm/rev 30","0.09 mm/rev 60","0.09 mm/rev 90","0.13 mm/rev 30","0.13 mm/rev 60","0.13 mm/rev 90"], "range": ["#ff1a1a","#1a78b8","#ffae1a","#ff1a1a","#1a78b8","#ffae1a","#ff1a1a","#1a78b8","#ffae1a"]}}}}
              ]
            },
            {
              "transform": [{"filter": "datum.cond == 'DRY' && datum.speed == 30"}],
              "mark": {"type": "text", "fontSize": 38, "baseline": "middle", "color": "black"},
              "encoding": {
                "x": {"field": "feed", "type": "nominal", "sort": null, "axis": null, "scale": {"domain": ["0.05 mm/rev","0.09 mm/rev","0.13 mm/rev"], "paddingInner": 0, "paddingOuter": 0}},
                "y": {"datum": 760, "type": "quantitative"},
                "text": {"field": "feed"}
              }
            },
            {
              "transform": [{"filter": "datum.cond == 'DRY' && datum.speed == 30 && datum.feed != '0.05 mm/rev'"}],
              "mark": {"type": "rule", "color": "#ff2020", "strokeWidth": 2.5, "strokeDash": [13, 9]},
              "encoding": {
                "x": {"field": "feed", "type": "nominal", "sort": null, "axis": null, "bandPosition": 0, "scale": {"domain": ["0.05 mm/rev","0.09 mm/rev","0.13 mm/rev"], "paddingInner": 0, "paddingOuter": 0}}
              }
            }
          ]
        },
        {
          "width": 947, "height": 123,
          "data": {"name": "temps"},
          "transform": [{"filter": "datum.panel == 'c'"}],
          "encoding": {
            "y": {"field": "row", "type": "nominal", "scale": {"domain": ["speed", "cond"], "paddingInner": 0, "paddingOuter": 0},
              "axis": {"values": ["cond"], "labelExpr": "'(c) WP1'", "domain": false, "ticks": true, "tickSize": 127, "tickWidth": 44, "tickColor": "#ff0000", "tickCap": "butt", "labelColor": "white", "labelFontSize": 36, "labelPadding": -124, "labelBaseline": "middle", "title": null, "bandPosition": 0.64, "grid": false}}
          },
          "resolve": {"scale": {"x": "independent"}},
          "layer": [
            {
              "transform": [{"filter": "datum.speed == 30"}, {"calculate": "datum.feed + ' ' + datum.cond", "as": "grp"}, {"calculate": "'cond'", "as": "row"}],
              "encoding": {"x": {"field": "grp", "type": "nominal", "sort": null, "axis": null, "scale": {"paddingInner": 0, "paddingOuter": 0}}},
              "layer": [
                {"mark": {"type": "rect", "fill": "white", "stroke": "#555", "strokeWidth": 1.5}},
                {"mark": {"type": "text", "fontSize": 37, "color": "black"}, "encoding": {"text": {"field": "cond"}}}
              ]
            },
            {
              "transform": [{"calculate": "datum.feed + ' ' + datum.cond + ' ' + datum.speed", "as": "slot"}, {"calculate": "'speed'", "as": "row"}],
              "encoding": {"x": {"field": "slot", "type": "nominal", "sort": null, "axis": null, "scale": {"paddingInner": 0, "paddingOuter": 0}}},
              "layer": [
                {"mark": {"type": "rect", "fill": "white", "stroke": "#555", "strokeWidth": 1.5}},
                {"mark": {"type": "text", "fontSize": 35, "color": "black"}, "encoding": {"text": {"field": "speed"}}}
              ]
            }
          ]
        }
      ]
    }
  ],
  "config": {
    "font": "Liberation Serif",
    "view": {"stroke": "#404040", "strokeWidth": 1.5},
    "axis": {"labelFont": "Liberation Serif", "titleFont": "Liberation Serif"}
  }
}
